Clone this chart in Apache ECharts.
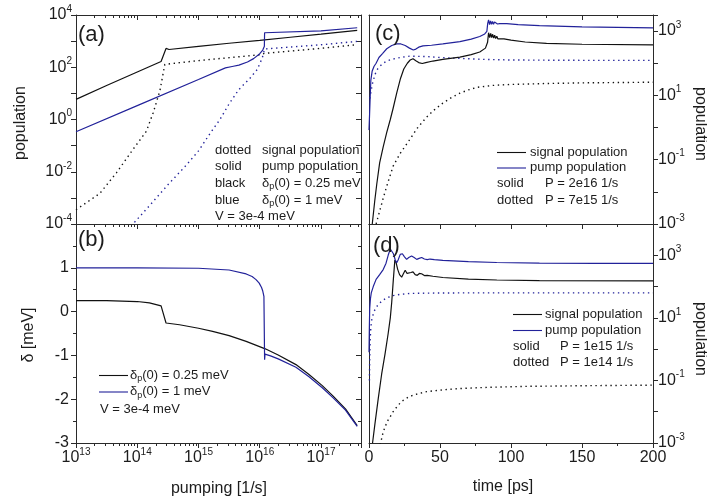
<!DOCTYPE html>
<html><head><meta charset="utf-8">
<script src="https://cdn.jsdelivr.net/npm/echarts@6/dist/echarts.min.js"></script>
<style>html,body{margin:0;padding:0;background:#fff}#c{width:707px;height:501px}</style>
</head><body><div id="c"></div>
<script>
// ---------------- data ----------------
// Panel (a): population vs pumping [1/s]
const a_pumpBlack = [[1e13,5.9],[3.16e13,20],[1e14,66],[2.45e14,166],[2.95e14,525],[3.3e14,479],[1e15,630],[3.16e15,830],[1e16,1070],[3.16e16,1410],[1e17,1860],[3.9e17,2600]];
const a_pumpBlue = [[1e13,0.34],[1e14,3.4],[1e15,34],[2.75e15,95],[3.55e15,107],[4.57e15,120],[6.3e15,158],[7.94e15,214],[1e16,331],[1.12e16,457],[1.19e16,631],[1.2e16,2090],[1.23e16,1820],[1e17,2450],[3.9e17,3250]];
const a_signalBlack = [[1e13,3.5e-4],[2.45e13,1.48e-3],[4.57e13,9.1e-3],[8.5e13,7.1e-2],[1.41e14,0.355],[1.82e14,1.82],[2.34e14,12.3],[2.82e14,129],[1e15,180],[1e16,300],[1.2e16,340],[1e17,530],[3.9e17,730]];
const a_signalBlue = [[7e13,6e-5],[1.58e14,5e-4],[3.16e14,3.16e-3],[6.3e14,1.78e-2],[1e15,6.3e-2],[1.58e15,0.316],[2.24e15,1],[3.16e15,3.98],[4.57e15,14.1],[6.76e15,35.5],[9.12e15,83],[1.1e16,229],[1.2e16,500],[1e17,724],[3.9e17,980]];
// Panel (b): delta [meV] vs pumping
const b_deltaBlack = [[1e13,0.25],[3.16e13,0.25],[1e14,0.23],[1.58e14,0.2],[2.45e14,0.13],[2.95e14,-0.26],[4.9e14,-0.3],[1e15,-0.38],[1.7e15,-0.45],[3.16e15,-0.55],[6e15,-0.68],[1.23e16,-0.85],[2e16,-0.99],[3.9e16,-1.21],[6.3e16,-1.43],[1.05e17,-1.69],[1.58e17,-1.93],[2.51e17,-2.22],[3.9e17,-2.6]];
const b_deltaBlue = [[1e13,1.0],[1e14,1.0],[1e15,0.99],[3.16e15,0.95],[6e15,0.86],[7.5e15,0.8],[8.7e15,0.73],[9.8e15,0.65],[1.07e16,0.55],[1.12e16,0.47],[1.17e16,0.35],[1.2e16,-1.1],[1.22e16,-0.97],[1.5e16,-1.01],[2e16,-1.08],[3.9e16,-1.27],[6.3e16,-1.48],[1.05e17,-1.74],[1.58e17,-1.97],[2.51e17,-2.25],[3.9e17,-2.62]];
// Panel (c): population vs time [ps], P = 2e16 (solid) / 7e15 (dotted)
const c_pumpSolid = [[0,0.83],[0.4,2.5],[0.8,8],[1.3,30],[2.2,56],[3.5,79],[5,100],[7,151],[9.5,200],[12.5,282],[16,355],[19.5,398],[22.5,398],[25.5,355],[28.5,295],[31.2,257],[33,275],[35,316],[38,347],[44,363],[52,398],[64,468],[72,562],[78,676],[81.5,813],[83,977],[83.6,1738],[84.2,2239],[84.9,1585],[85.6,2089],[86.3,1622],[87,1995],[87.7,1622],[88.4,1905],[89.1,1660],[89.8,1820],[90.5,1660],[91.2,1778],[92,1698],[92.8,1738],[94,1698],[97,1698],[105,1585],[120,1479],[150,1349],[200,1259]];
const c_signalSolid = [[2.3,0.001],[4,0.005],[5.5,0.0178],[7.5,0.0794],[10,0.251],[12.5,0.708],[15,1.78],[17,3.98],[19.5,11.7],[22,31.6],[24.5,66],[27,100],[29,126],[31,138],[33,120],[35,105],[37.5,98],[40,105],[45,117],[52,132],[64,155],[72,186],[78,224],[82,295],[83.5,447],[84.2,891],[85,631],[85.7,851],[86.4,631],[87.1,794],[87.8,603],[88.5,741],[89.2,589],[90,692],[90.7,575],[91.5,646],[92.5,575],[95,575],[100,525],[110,457],[125,417],[150,389],[200,372]];
const c_pumpDotted = [[0.5,8],[1.5,14],[2.5,24],[4,41],[5.3,60],[7.5,79],[10,100],[13,120],[17,135],[22,151],[28.7,166],[40,162],[50,151],[64,141],[80,132],[100,126],[150,123],[200,123]];
const c_signalDotted = [[5,0.001],[7.5,0.00251],[10,0.00631],[13,0.0178],[17,0.0631],[22,0.158],[28.6,0.417],[34,0.955],[40.5,2.09],[46,3.55],[52,5.75],[58,8.5],[64,11.7],[70,14.8],[76,17.8],[87,20.4],[100,21.9],[125,23.4],[150,24.5],[200,25.7]];
// Panel (d): population vs time [ps], P = 1e15 (solid) / 1e14 (dotted)
const d_pumpSolid = [[0,0.794],[0.25,5],[0.5,20],[1,40],[1.6,63],[3,100],[5,170],[7.5,240],[10,350],[12,560],[13.5,1000],[15,1585],[16,1514],[17.2,1122],[18.5,708],[19.5,575],[20.5,708],[22,1072],[23.5,1122],[25,891],[26.5,741],[28,851],[30,955],[31.8,851],[33.6,741],[35.3,794],[37.1,851],[39,759],[41,724],[43,759],[46,724],[52,692],[70,631],[90,589],[120,562],[160,550],[200,550]];
const d_signalSolid = [[2.5,0.001],[4.2,0.00417],[6.6,0.0282],[8.9,0.158],[11.3,0.708],[13.5,3.16],[15,10],[16,31.6],[17.1,158],[18.2,708],[19,603],[20.2,355],[21.5,240],[23,200],[24.3,263],[25.5,331],[26.8,263],[28,229],[29.5,282],[31,295],[32.5,240],[34,229],[35.5,263],[37,257],[39,224],[41,229],[45,214],[52,195],[70,174],[90,162],[120,155],[200,151]];
const d_pumpDotted = [[0.3,0.1],[0.5,0.5],[0.8,2],[1.3,5],[2,8.9],[3.5,15.8],[5.2,22.4],[7.5,29.5],[10,37.2],[13,44.7],[17,51.3],[22,56.2],[29,60.3],[40,61.7],[70,63.1],[200,63.1]];
const d_signalDotted = [[7.8,0.00089],[8.9,0.00138],[10,0.00224],[11.3,0.00324],[13,0.00501],[14.8,0.00676],[17,0.01],[19.5,0.0141],[22,0.0191],[24.2,0.0234],[27.5,0.0288],[31.2,0.0339],[36,0.0389],[40.6,0.0437],[52,0.0501],[64,0.055],[84,0.0603],[110,0.0646],[150,0.0676],[200,0.0708]];

// axis ranges / tick settings
const P_MIN = 1e13, P_MAX = 4.5e17;
const POP_A = [1e-4, 1e4];
const DELTA_B = [-3, 2];
const T_RANGE = [0, 200];
const POP_C = [1e-3, 3162];
const POP_D = [1e-3, 1e4];

// ---------------- styling ----------------
const FONT = "'Liberation Sans', Arial, Helvetica, sans-serif";
const TXT = '#1c1c1c';
const AX = '#2a2a2a';
const BLACK = '#111111';
const BLUE = '#22229a';

const supRich = {
  b: {fontSize: 16, lineHeight: 22, fontFamily: FONT, color: TXT},
  s: {fontSize: 10, lineHeight: 11, verticalAlign: 'top', fontFamily: FONT, color: TXT}
};
function supFmt(parity) {
  return function (v) {
    const e = Math.log10(v), r = Math.round(e);
    if (Math.abs(e - r) > 1e-6) return '';
    if (parity !== null && (((r % 2) + 2) % 2) !== parity) return '';
    return '{b|10}{s|' + r + '}';
  };
}
const lineSt = {color: AX, width: 1};
function axis(o) {
  const a = {
    gridIndex: o.grid, position: o.pos, type: o.type, min: o.min, max: o.max,
    axisLine: {show: true, onZero: false, lineStyle: lineSt},
    axisTick: {show: o.ticks !== false, inside: !!o.inside, length: 5, lineStyle: lineSt},
    minorTick: {show: !!o.minor && o.ticks !== false, splitNumber: 2, length: 3, lineStyle: lineSt},
    splitLine: {show: false}, minorSplitLine: {show: false},
    axisLabel: o.label ? Object.assign({show: true, color: TXT, fontFamily: FONT, fontSize: 16, lineHeight: 22}, o.label) : {show: false},
    silent: true
  };
  if (o.type === 'log') a.logBase = 10;
  if (o.interval != null) a.interval = o.interval;
  return a;
}

const xAxes = [
  axis({grid: 0, pos: 'bottom', type: 'log', min: P_MIN, max: P_MAX}),
  axis({grid: 0, pos: 'top', type: 'log', min: P_MIN, max: P_MAX, inside: true}),
  axis({grid: 1, pos: 'bottom', type: 'log', min: P_MIN, max: P_MAX, label: {margin: 4, formatter: supFmt(null), rich: supRich}}),
  axis({grid: 1, pos: 'top', type: 'log', min: P_MIN, max: P_MAX, ticks: false}),
  axis({grid: 2, pos: 'bottom', type: 'value', min: T_RANGE[0], max: T_RANGE[1], interval: 50, minor: true}),
  axis({grid: 2, pos: 'top', type: 'value', min: T_RANGE[0], max: T_RANGE[1], interval: 50, minor: true, inside: true}),
  axis({grid: 3, pos: 'bottom', type: 'value', min: T_RANGE[0], max: T_RANGE[1], interval: 50, minor: true, label: {margin: 4}}),
  axis({grid: 3, pos: 'top', type: 'value', min: T_RANGE[0], max: T_RANGE[1], interval: 50, ticks: false})
];
const yAxes = [
  axis({grid: 0, pos: 'left', type: 'log', min: POP_A[0], max: POP_A[1], label: {margin: 4, formatter: supFmt(0), rich: supRich}}),
  axis({grid: 0, pos: 'right', type: 'log', min: POP_A[0], max: POP_A[1], inside: true}),
  axis({grid: 1, pos: 'left', type: 'value', min: DELTA_B[0], max: DELTA_B[1], interval: 1, minor: true, label: {margin: 7, formatter: v => (v === DELTA_B[1] ? '' : String(v))}}),
  axis({grid: 1, pos: 'right', type: 'value', min: DELTA_B[0], max: DELTA_B[1], interval: 1, minor: true, inside: true}),
  axis({grid: 2, pos: 'right', type: 'log', min: POP_C[0], max: POP_C[1], label: {margin: 5, formatter: supFmt(1), rich: supRich}}),
  axis({grid: 2, pos: 'left', type: 'log', min: POP_C[0], max: POP_C[1], ticks: false}),
  axis({grid: 3, pos: 'right', type: 'log', min: POP_D[0], max: POP_D[1], label: {margin: 5, formatter: supFmt(1), rich: supRich}}),
  axis({grid: 3, pos: 'left', type: 'log', min: POP_D[0], max: POP_D[1], ticks: false})
];

function ser(data, xi, yi, color, dotted) {
  return {
    type: 'line', data, xAxisIndex: xi, yAxisIndex: yi, showSymbol: false, symbol: 'none',
    animation: false, silent: true, clip: true, z: 3,
    lineStyle: {color, width: dotted ? 1.4 : 1.2, type: dotted ? [1.4, 3.6] : 'solid', cap: 'butt'}
  };
}

// minor log ticks (2..9 x 10^n) for the pumping axes
const logMinor = [];
for (let e = 13; e <= 17; e++) for (let m = 2; m <= 9; m++) { const v = m * Math.pow(10, e); if (v < P_MAX) logMinor.push(v); }
function minorSeries(xi, yi, yRef, top, bottom) {
  return {
    type: 'custom', xAxisIndex: xi, yAxisIndex: yi, silent: true, clip: false, animation: false, z: 4,
    data: logMinor.map(v => [v, yRef]), encode: {x: 0, y: 1},
    renderItem: function (params, api) {
      const cs = params.coordSys;
      const x = Math.round(api.coord([api.value(0), yRef])[0]) + 0.5;
      const ch = [];
      if (top) ch.push({type: 'line', shape: {x1: x, y1: cs.y, x2: x, y2: cs.y + 3}, style: {stroke: AX, lineWidth: 1}});
      if (bottom) ch.push({type: 'line', shape: {x1: x, y1: cs.y + cs.height, x2: x, y2: cs.y + cs.height + 3}, style: {stroke: AX, lineWidth: 1}});
      return {type: 'group', children: ch};
    }
  };
}

// ---------------- texts ----------------
function txt(x, y, text, size, o) {
  o = o || {};
  return {type: 'text', x, y, rotation: o.rot || 0, silent: true, z: 100,
    style: {text, fill: TXT, font: size + 'px ' + FONT, align: o.align || 'left', verticalAlign: 'middle', rich: o.rich}};
}
function seg(x1, x2, y, color) {
  return {type: 'line', silent: true, z: 100, shape: {x1, y1: y, x2, y2: y}, style: {stroke: color, lineWidth: 1.1}};
}
const subRich = {
  t: {fontSize: 13, fontFamily: FONT, fill: TXT, lineHeight: 16},
  s: {fontSize: 9, fontFamily: FONT, fill: TXT, lineHeight: 8, verticalAlign: 'bottom'}
};
const dp = v => '{t|δ}{s|p}{t|(0) = ' + v + ' meV}';

const graphics = [
  txt(78, 35, '(a)', 22), txt(78, 240, '(b)', 22), txt(375, 34, '(c)', 22), txt(373, 246, '(d)', 22),
  // panel (a) key
  txt(215, 150.5, 'dotted', 13), txt(262, 150.5, 'signal population', 13),
  txt(215, 166.7, 'solid', 13), txt(262, 166.7, 'pump population', 13),
  txt(215, 183, 'black', 13), txt(262, 183, dp('0.25'), 13, {rich: subRich}),
  txt(215, 200, 'blue', 13), txt(262, 200, dp('1'), 13, {rich: subRich}),
  txt(215, 216.7, 'V = 3e-4 meV', 13),
  // panel (b) key
  seg(99, 128, 375.5, BLACK), txt(130, 375, dp('0.25'), 13, {rich: subRich}),
  seg(99, 128, 392, BLUE), txt(130, 391.7, dp('1'), 13, {rich: subRich}),
  txt(100, 409.3, 'V = 3e-4 meV', 13),
  // panel (c) key
  seg(497, 526, 152.5, BLACK), txt(530, 152, 'signal population', 13),
  seg(497, 526, 168, BLUE), txt(530, 167.5, 'pump population', 13),
  txt(497, 183.3, 'solid', 13), txt(545, 183.3, 'P = 2e16 1/s', 13),
  txt(497, 200, 'dotted', 13), txt(545, 200, 'P = 7e15 1/s', 13),
  // panel (d) key
  seg(513, 542, 314.5, BLACK), txt(545, 314, 'signal population', 13),
  seg(513, 542, 330.5, BLUE), txt(545, 330, 'pump population', 13),
  txt(513, 346, 'solid', 13), txt(560, 346, 'P = 1e15 1/s', 13),
  txt(513, 362, 'dotted', 13), txt(560, 362, 'P = 1e14 1/s', 13),
  // axis titles
  txt(21, 123, 'population', 16, {rot: Math.PI / 2, align: 'center'}),
  txt(29, 335, 'δ [meV]', 16, {rot: Math.PI / 2, align: 'center'}),
  txt(219, 489, 'pumping [1/s]', 16, {align: 'center'}),
  txt(503, 487, 'time [ps]', 16, {align: 'center'}),
  txt(700, 124, 'population', 16, {rot: -Math.PI / 2, align: 'center'}),
  txt(700, 339, 'population', 16, {rot: -Math.PI / 2, align: 'center'})
];

const chart = echarts.init(document.getElementById('c'), null, {renderer: 'canvas', width: 707, height: 501});
chart.setOption({
  backgroundColor: '#ffffff',
  animation: false,
  grid: [
    {left: 76, top: 15, width: 285, height: 209},
    {left: 76, top: 224, width: 285, height: 219},
    {left: 369, top: 15, width: 284, height: 209},
    {left: 369, top: 224, width: 284, height: 219}
  ],
  xAxis: xAxes,
  yAxis: yAxes,
  series: [
    ser(a_signalBlack, 0, 0, BLACK, true),
    ser(a_signalBlue, 0, 0, BLUE, true),
    ser(a_pumpBlack, 0, 0, BLACK, false),
    ser(a_pumpBlue, 0, 0, BLUE, false),
    ser(b_deltaBlack, 2, 2, BLACK, false),
    ser(b_deltaBlue, 2, 2, BLUE, false),
    ser(c_signalDotted, 4, 4, BLACK, true),
    ser(c_pumpDotted, 4, 4, BLUE, true),
    ser(c_signalSolid, 4, 4, BLACK, false),
    ser(c_pumpSolid, 4, 4, BLUE, false),
    ser(d_signalDotted, 6, 6, BLACK, true),
    ser(d_pumpDotted, 6, 6, BLUE, true),
    ser(d_signalSolid, 6, 6, BLACK, false),
    ser(d_pumpSolid, 6, 6, BLUE, false),
    minorSeries(0, 0, 1, true, true),
    minorSeries(2, 2, 0, false, true)
  ],
  graphic: graphics
});
</script></body></html>
